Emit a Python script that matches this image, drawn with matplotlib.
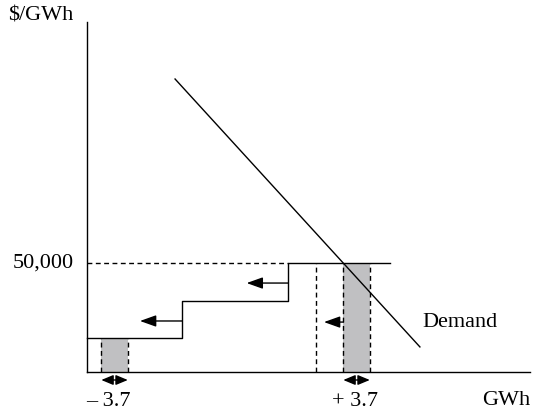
import matplotlib
matplotlib.use("Agg")
import matplotlib.pyplot as plt
from matplotlib.patches import Rectangle, FancyArrowPatch

plt.rcParams["font.family"] = ["Liberation Serif", "DejaVu Serif"]

# Supply curve (stepwise): GWh breakpoints and price levels ($/GWh)
step_x = [0.0, 13.3, 13.3, 28.1, 28.1, 42.3]
step_y = [15600, 15600, 32600, 32600, 50000, 50000]

# Demand curve endpoints
demand_x = [12.3, 46.5]
demand_y = [134400, 11500]

# Market-clearing price
price = 50000

# Shaded quantity bands (+/- 3.7 GWh)
band_left = [2.0, 5.7]
band_right = [35.8, 39.5]
band_left_top = 15600
old_qty = 32.0

# Shift arrows: (x_start, x_end, y)
shift_arrows = [(28.1, 22.3, 40800), (13.3, 7.4, 23400), (35.8, 33.1, 22900)]

x_max = 61.9
y_max = 160500

fig = plt.figure(figsize=(5.48, 4.11), dpi=100)
ax = fig.add_axes([0, 0, 1, 1])
ax.set_xlim(-12.15, 64.39)
ax.set_ylim(-17890, 170636)
ax.axis("off")

lw = 1.0
dash = (0, (3.5, 2.5))

# Axes
ax.plot([0, x_max], [0, 0], color="black", lw=lw)
ax.plot([0, 0], [0, y_max], color="black", lw=lw)

# Shaded bands
for (x0, x1), top in [(band_left, band_left_top), (band_right, price)]:
    ax.add_patch(Rectangle((x0, 0), x1 - x0, top, facecolor="#c0c0c2",
                           edgecolor="none", zorder=1))
    for xx in (x0, x1):
        ax.plot([xx, xx], [0, top], color="black", lw=lw, linestyle=dash, zorder=2)

# Previous quantity marker
ax.plot([old_qty, old_qty], [0, price], color="black", lw=lw, linestyle=dash)

# Price reference line
ax.plot([0, step_x[4]], [price, price], color="black", lw=lw, linestyle=dash)

# Supply steps
ax.plot(step_x, step_y, color="black", lw=lw, zorder=3)

# Demand
ax.plot(demand_x, demand_y, color="black", lw=lw, zorder=3)

# Shift arrows
for xs, xe, yy in shift_arrows:
    ax.add_patch(FancyArrowPatch((xs, yy), (xe, yy),
                                 arrowstyle="-|>,head_length=0.7,head_width=0.25",
                                 mutation_scale=14, color="black", lw=lw,
                                 shrinkA=0, shrinkB=0))

# Double-headed width markers below axis
for x0, x1 in (band_left, band_right):
    ax.add_patch(FancyArrowPatch((x0, -3670), (x1, -3670),
                                 arrowstyle="<|-|>,head_length=0.6,head_width=0.25",
                                 mutation_scale=12, color="black", lw=lw,
                                 shrinkA=0, shrinkB=0, clip_on=False))

fs = 16
ax.text(-11.0, 163200, r"\$/GWh", fontsize=fs, ha="left", va="center")
ax.text(-1.8, price, "50,000", fontsize=fs, ha="right", va="center")
ax.text(46.8, 22900, "Demand", fontsize=fs, ha="left", va="center")
ax.text(3.0, -13500, "\u2013 3.7", fontsize=fs, ha="center", va="center")
ax.text(37.4, -13500, "+ 3.7", fontsize=fs, ha="center", va="center")
ax.text(x_max, -13000, "GWh", fontsize=fs, ha="right", va="center")

fig.savefig("out.png", dpi=100)
